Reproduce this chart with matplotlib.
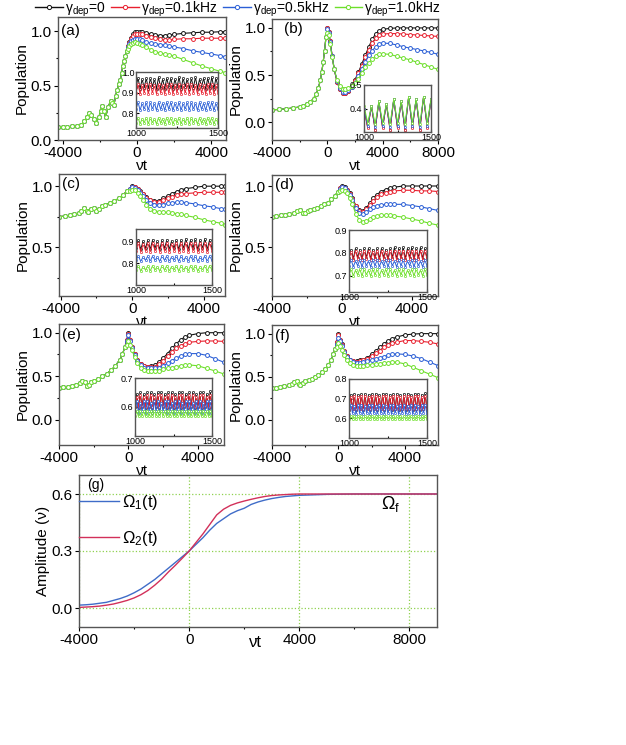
import matplotlib
matplotlib.use('Agg')
import matplotlib.pyplot as plt
import numpy as np

matplotlib.rcParams['font.family'] = ['Liberation Sans', 'DejaVu Sans']
matplotlib.rcParams['mathtext.fontset'] = 'custom'
matplotlib.rcParams['mathtext.rm'] = 'Liberation Sans'
matplotlib.rcParams['mathtext.default'] = 'regular'
matplotlib.rcParams['axes.unicode_minus'] = False

## 색상 / 범례
colors = ['#111111', '#e8202f', '#2b5fd6', '#6ddf2a']
labels = ['γ$_{dep}$=0', 'γ$_{dep}$=0.1kHz', 'γ$_{dep}$=0.5kHz', 'γ$_{dep}$=1.0kHz']

## (a)
a_t_pre = [-4250, -4000, -3750, -3500, -3250, -3000, -2850, -2700, -2580, -2450, -2300, -2190, -2050, -1950,
           -1870, -1780, -1690, -1550, -1420, -1330, -1240, -1150, -1070, -980, -890, -820, -760, -690, -620, -550]
a_pre = [0.12, 0.12, 0.12, 0.125, 0.13, 0.14, 0.17, 0.21, 0.245, 0.23, 0.19, 0.16, 0.21, 0.27,
         0.31, 0.27, 0.21, 0.30, 0.36, 0.34, 0.32, 0.40, 0.46, 0.51, 0.55, 0.62, 0.68, 0.73, 0.77, 0.82]
a_t_post = [-480, -400, -300, -200, -100, 0, 150, 300, 500, 750, 1000, 1250, 1500, 1750, 2000, 2500, 3000, 3500, 4000, 4500, 4750]
a_black = [0.86, 0.90, 0.94, 0.97, 0.99, 0.99, 0.99, 0.99, 0.985, 0.975, 0.965, 0.96, 0.96, 0.965, 0.97, 0.98, 0.985, 0.99, 0.99, 0.995, 0.995]
a_red = [0.86, 0.89, 0.93, 0.96, 0.97, 0.975, 0.975, 0.97, 0.96, 0.95, 0.935, 0.925, 0.92, 0.92, 0.925, 0.93, 0.93, 0.935, 0.935, 0.935, 0.935]
a_blue = [0.85, 0.88, 0.91, 0.92, 0.93, 0.93, 0.925, 0.915, 0.90, 0.89, 0.885, 0.877, 0.87, 0.862, 0.855, 0.84, 0.82, 0.805, 0.79, 0.775, 0.765]
a_green = [0.84, 0.86, 0.88, 0.89, 0.90, 0.895, 0.885, 0.87, 0.85, 0.83, 0.81, 0.80, 0.79, 0.78, 0.77, 0.74, 0.71, 0.68, 0.655, 0.63, 0.62]

## (b)
b_t_pre = [-4000, -3500, -3000, -2500, -2000, -1750, -1500, -1250, -1000, -800, -650, -500, -400, -300, -200, -100]
b_pre = [0.13, 0.135, 0.14, 0.15, 0.16, 0.17, 0.19, 0.21, 0.25, 0.30, 0.36, 0.45, 0.53, 0.64, 0.76, 0.90]
b_t_post = [0, 100, 200, 350, 500, 700, 900, 1100, 1300, 1500, 1750, 2000, 2250, 2500, 2750, 3000, 3250, 3500, 3750, 4000,
            4500, 5000, 5500, 6000, 6500, 7000, 7500, 8000]
b_black = [1.0, 0.96, 0.86, 0.70, 0.56, 0.43, 0.35, 0.31, 0.31, 0.33, 0.38, 0.45, 0.53, 0.62, 0.71, 0.80, 0.88, 0.94, 0.97, 0.985,
           0.995, 1.0, 1.0, 1.0, 1.0, 1.0, 1.0, 1.0]
b_red = [1.0, 0.96, 0.86, 0.70, 0.56, 0.43, 0.35, 0.31, 0.31, 0.33, 0.37, 0.44, 0.52, 0.60, 0.69, 0.77, 0.84, 0.89, 0.92, 0.935,
         0.94, 0.94, 0.935, 0.93, 0.925, 0.92, 0.915, 0.91]
b_blue = [0.99, 0.95, 0.85, 0.70, 0.56, 0.44, 0.36, 0.32, 0.32, 0.34, 0.37, 0.42, 0.49, 0.56, 0.64, 0.71, 0.76, 0.80, 0.83, 0.84,
          0.835, 0.82, 0.80, 0.785, 0.77, 0.755, 0.74, 0.72]
b_green = [0.95, 0.92, 0.83, 0.69, 0.56, 0.45, 0.38, 0.35, 0.35, 0.36, 0.38, 0.42, 0.46, 0.52, 0.58, 0.63, 0.67, 0.70, 0.72, 0.725,
           0.72, 0.70, 0.68, 0.66, 0.635, 0.61, 0.585, 0.56]

## (c)
c_t_pre = [-4100, -3750, -3500, -3250, -3000, -2850, -2700, -2550, -2450, -2300, -2150, -2000, -1850, -1700, -1500, -1250, -1000, -750, -500, -300]
c_pre = [0.75, 0.755, 0.76, 0.77, 0.78, 0.80, 0.82, 0.80, 0.785, 0.81, 0.82, 0.80, 0.81, 0.835, 0.85, 0.86, 0.88, 0.90, 0.93, 0.96]
c_t_post = [-150, 0, 150, 300, 450, 600, 800, 1000, 1250, 1500, 1750, 2000, 2250, 2500, 2750, 3000, 3500, 4000, 4500, 5000, 5200]
c_black = [0.98, 1.0, 0.995, 0.98, 0.96, 0.94, 0.91, 0.89, 0.875, 0.88, 0.90, 0.92, 0.94, 0.955, 0.97, 0.98, 0.99, 1.0, 1.0, 1.0, 1.0]
c_red = [0.98, 0.995, 0.99, 0.975, 0.955, 0.935, 0.905, 0.885, 0.87, 0.87, 0.885, 0.90, 0.915, 0.925, 0.935, 0.94, 0.945, 0.95, 0.95, 0.95, 0.95]
c_blue = [0.975, 0.99, 0.985, 0.97, 0.945, 0.92, 0.89, 0.865, 0.85, 0.845, 0.85, 0.86, 0.865, 0.87, 0.87, 0.865, 0.855, 0.84, 0.83, 0.815, 0.81]
c_green = [0.96, 0.97, 0.965, 0.945, 0.92, 0.89, 0.85, 0.815, 0.80, 0.79, 0.785, 0.785, 0.78, 0.775, 0.77, 0.76, 0.745, 0.725, 0.71, 0.695, 0.685]

## (d)
d_t_pre = [-4000, -3750, -3500, -3250, -3000, -2750, -2550, -2400, -2250, -2100, -1950, -1800, -1600, -1400, -1200, -1000, -800, -600, -400, -250]
d_pre = [0.75, 0.755, 0.76, 0.765, 0.77, 0.78, 0.795, 0.80, 0.78, 0.78, 0.795, 0.80, 0.81, 0.82, 0.835, 0.85, 0.865, 0.89, 0.92, 0.95]
d_t_post = [-100, 0, 150, 300, 450, 600, 800, 1000, 1200, 1400, 1600, 1800, 2000, 2250, 2500, 2750, 3000, 3500, 4000, 4500, 5000, 5500]
d_black = [0.98, 1.0, 0.99, 0.97, 0.94, 0.90, 0.84, 0.80, 0.795, 0.82, 0.86, 0.90, 0.93, 0.955, 0.97, 0.985, 0.99, 1.0, 1.0, 1.0, 1.0, 1.0]
d_red = [0.98, 0.995, 0.985, 0.965, 0.935, 0.895, 0.835, 0.795, 0.79, 0.81, 0.845, 0.88, 0.91, 0.935, 0.945, 0.955, 0.96, 0.965, 0.965, 0.96, 0.96, 0.955]
d_blue = [0.975, 0.99, 0.98, 0.96, 0.93, 0.885, 0.82, 0.78, 0.77, 0.785, 0.81, 0.83, 0.84, 0.845, 0.85, 0.85, 0.85, 0.85, 0.84, 0.83, 0.815, 0.80]
d_green = [0.96, 0.97, 0.96, 0.94, 0.90, 0.85, 0.77, 0.72, 0.705, 0.71, 0.73, 0.745, 0.755, 0.76, 0.76, 0.76, 0.755, 0.745, 0.73, 0.715, 0.695, 0.68]

## (e)
e_t_pre = [-4000, -3750, -3500, -3250, -3000, -2800, -2650, -2500, -2400, -2300, -2150, -2000, -1750, -1500, -1250, -1000, -750, -500, -350, -200]
e_pre = [0.37, 0.375, 0.38, 0.39, 0.40, 0.42, 0.44, 0.43, 0.39, 0.40, 0.43, 0.45, 0.47, 0.50, 0.53, 0.57, 0.62, 0.69, 0.75, 0.84]
e_t_post = [-100, 0, 100, 200, 350, 500, 700, 900, 1100, 1300, 1500, 1750, 2000, 2250, 2500, 2750, 3000, 3250, 3500, 4000, 4500, 5000, 5500]
e_black = [0.92, 1.0, 0.92, 0.84, 0.75, 0.69, 0.64, 0.615, 0.61, 0.615, 0.625, 0.66, 0.71, 0.76, 0.82, 0.87, 0.92, 0.95, 0.97, 0.99, 1.0, 1.0, 1.0]
e_red = [0.92, 0.99, 0.92, 0.84, 0.75, 0.69, 0.64, 0.615, 0.605, 0.605, 0.61, 0.64, 0.68, 0.73, 0.78, 0.82, 0.85, 0.875, 0.89, 0.90, 0.905, 0.905, 0.90]
e_blue = [0.90, 0.97, 0.90, 0.82, 0.74, 0.68, 0.63, 0.60, 0.59, 0.59, 0.59, 0.60, 0.62, 0.65, 0.68, 0.71, 0.73, 0.75, 0.76, 0.76, 0.74, 0.70, 0.66]
e_green = [0.86, 0.91, 0.86, 0.80, 0.72, 0.65, 0.60, 0.575, 0.565, 0.56, 0.56, 0.565, 0.58, 0.59, 0.60, 0.61, 0.62, 0.625, 0.63, 0.62, 0.59, 0.56, 0.525]

## (f)
f_t_pre = [-4000, -3750, -3500, -3250, -3000, -2800, -2650, -2500, -2400, -2300, -2150, -2000, -1800, -1600, -1400, -1200, -1000, -800, -600, -450, -300, -200]
f_pre = [0.37, 0.375, 0.38, 0.39, 0.40, 0.42, 0.44, 0.45, 0.42, 0.40, 0.43, 0.45, 0.46, 0.48, 0.50, 0.52, 0.55, 0.59, 0.64, 0.69, 0.76, 0.82]
f_t_post = [-100, 0, 100, 200, 350, 500, 700, 900, 1100, 1300, 1500, 1750, 2000, 2250, 2500, 2750, 3000, 3250, 3500, 4000, 4500, 5000, 5500, 6000]
f_black = [0.90, 0.99, 0.93, 0.88, 0.80, 0.74, 0.70, 0.68, 0.68, 0.69, 0.70, 0.72, 0.76, 0.80, 0.84, 0.88, 0.92, 0.94, 0.96, 0.985, 0.995, 1.0, 1.0, 1.0]
f_red = [0.90, 0.98, 0.93, 0.87, 0.80, 0.74, 0.70, 0.68, 0.675, 0.68, 0.69, 0.71, 0.74, 0.77, 0.80, 0.84, 0.87, 0.89, 0.90, 0.92, 0.92, 0.91, 0.90, 0.88]
f_blue = [0.88, 0.95, 0.91, 0.86, 0.79, 0.73, 0.69, 0.67, 0.665, 0.665, 0.67, 0.68, 0.69, 0.71, 0.72, 0.735, 0.75, 0.76, 0.765, 0.76, 0.74, 0.71, 0.67, 0.63]
f_green = [0.84, 0.89, 0.86, 0.81, 0.75, 0.69, 0.655, 0.635, 0.63, 0.63, 0.63, 0.635, 0.64, 0.645, 0.65, 0.66, 0.665, 0.67, 0.67, 0.65, 0.61, 0.57, 0.53, 0.49]

## 삽입 그래프 (1000 ~ 1500)
a_in_black = [0.93, 0.97, 0.92, 0.965, 0.925, 0.97, 0.92, 0.97, 0.93, 0.965, 0.92, 0.975, 0.925, 0.965, 0.92, 0.97, 0.93, 0.97, 0.92, 0.965, 0.925,
              0.975, 0.92, 0.97, 0.93, 0.965, 0.92, 0.97, 0.925, 0.975, 0.92, 0.965, 0.93, 0.97, 0.92, 0.97, 0.925, 0.975, 0.92, 0.97, 0.93]
a_in_red = [0.90, 0.94, 0.895, 0.935, 0.90, 0.94, 0.895, 0.94, 0.90, 0.935, 0.895, 0.94, 0.90, 0.935, 0.895, 0.94, 0.90, 0.94, 0.895, 0.935, 0.90,
            0.94, 0.895, 0.935, 0.90, 0.94, 0.895, 0.94, 0.90, 0.935, 0.895, 0.94, 0.90, 0.935, 0.895, 0.94, 0.90, 0.94, 0.895, 0.935, 0.90]
a_in_blue = [0.82, 0.855, 0.815, 0.85, 0.82, 0.855, 0.815, 0.855, 0.82, 0.85, 0.815, 0.855, 0.82, 0.85, 0.815, 0.855, 0.82, 0.855, 0.815, 0.85, 0.82,
             0.855, 0.815, 0.85, 0.82, 0.855, 0.815, 0.855, 0.82, 0.85, 0.815, 0.855, 0.82, 0.85, 0.815, 0.855, 0.82, 0.855, 0.815, 0.85, 0.82]
a_in_green = [0.755, 0.78, 0.75, 0.775, 0.755, 0.78, 0.75, 0.78, 0.755, 0.775, 0.75, 0.78, 0.755, 0.775, 0.75, 0.78, 0.755, 0.78, 0.75, 0.775, 0.755,
              0.78, 0.75, 0.775, 0.755, 0.78, 0.75, 0.78, 0.755, 0.775, 0.75, 0.78, 0.755, 0.775, 0.75, 0.78, 0.755, 0.78, 0.75, 0.775, 0.755]

b_in_black = [0.40, 0.32, 0.41, 0.31, 0.43, 0.32, 0.42, 0.31, 0.44, 0.32, 0.43, 0.31, 0.45, 0.32, 0.44, 0.31, 0.45, 0.32, 0.44]
b_in_red = [0.40, 0.315, 0.41, 0.31, 0.43, 0.315, 0.42, 0.31, 0.44, 0.315, 0.43, 0.31, 0.45, 0.315, 0.44, 0.31, 0.45, 0.315, 0.44]
b_in_blue = [0.40, 0.325, 0.41, 0.32, 0.43, 0.325, 0.42, 0.32, 0.44, 0.325, 0.43, 0.32, 0.45, 0.325, 0.44, 0.32, 0.45, 0.325, 0.44]
b_in_green = [0.41, 0.34, 0.41, 0.335, 0.43, 0.34, 0.42, 0.335, 0.44, 0.34, 0.43, 0.335, 0.45, 0.34, 0.44, 0.335, 0.45, 0.34, 0.44]

c_in_black = [0.87, 0.91, 0.865, 0.905, 0.87, 0.91, 0.865, 0.91, 0.87, 0.905, 0.865, 0.91, 0.87, 0.91, 0.865, 0.905, 0.87,
              0.91, 0.865, 0.91, 0.87, 0.915, 0.865, 0.91, 0.87, 0.915, 0.865, 0.91, 0.87, 0.915, 0.865, 0.91, 0.87]
c_in_red = [0.86, 0.895, 0.855, 0.89, 0.86, 0.895, 0.855, 0.895, 0.86, 0.89, 0.855, 0.895, 0.86, 0.895, 0.855, 0.89, 0.86,
            0.895, 0.855, 0.895, 0.86, 0.895, 0.855, 0.895, 0.86, 0.895, 0.855, 0.895, 0.86, 0.895, 0.855, 0.895, 0.86]
c_in_blue = [0.815, 0.835, 0.81, 0.83, 0.815, 0.835, 0.81, 0.835, 0.815, 0.83, 0.81, 0.835, 0.815, 0.835, 0.81, 0.83, 0.815,
             0.835, 0.81, 0.835, 0.815, 0.83, 0.81, 0.835, 0.815, 0.835, 0.81, 0.83, 0.815, 0.835, 0.81, 0.835, 0.815]
c_in_green = [0.77, 0.79, 0.765, 0.785, 0.77, 0.79, 0.765, 0.79, 0.77, 0.785, 0.765, 0.79, 0.77, 0.79, 0.765, 0.785, 0.77,
              0.79, 0.765, 0.79, 0.77, 0.785, 0.765, 0.79, 0.77, 0.79, 0.765, 0.785, 0.77, 0.79, 0.765, 0.79, 0.77]

d_in_black = [0.78, 0.815, 0.775, 0.82, 0.78, 0.815, 0.775, 0.82, 0.78, 0.82, 0.775, 0.815, 0.78, 0.82, 0.775, 0.82, 0.78, 0.815, 0.775,
              0.82, 0.78, 0.825, 0.775, 0.82, 0.78, 0.825, 0.775, 0.82, 0.78, 0.825, 0.775, 0.82, 0.78, 0.825, 0.775, 0.82, 0.78]
d_in_red = [0.775, 0.805, 0.77, 0.81, 0.775, 0.805, 0.77, 0.81, 0.775, 0.81, 0.77, 0.805, 0.775, 0.81, 0.77, 0.81, 0.775, 0.805, 0.77,
            0.81, 0.775, 0.81, 0.77, 0.81, 0.775, 0.81, 0.77, 0.81, 0.775, 0.81, 0.77, 0.81, 0.775, 0.81, 0.77, 0.81, 0.775]
d_in_blue = [0.745, 0.77, 0.74, 0.765, 0.745, 0.77, 0.74, 0.77, 0.745, 0.765, 0.74, 0.77, 0.745, 0.77, 0.74, 0.765, 0.745, 0.77, 0.74,
             0.77, 0.745, 0.765, 0.74, 0.77, 0.745, 0.77, 0.74, 0.765, 0.745, 0.77, 0.74, 0.77, 0.745, 0.765, 0.74, 0.77, 0.745]
d_in_green = [0.705, 0.73, 0.70, 0.725, 0.705, 0.73, 0.70, 0.73, 0.705, 0.725, 0.70, 0.73, 0.705, 0.73, 0.70, 0.725, 0.705, 0.73, 0.70,
              0.73, 0.705, 0.725, 0.70, 0.73, 0.705, 0.73, 0.70, 0.725, 0.705, 0.73, 0.70, 0.73, 0.705, 0.725, 0.70, 0.73, 0.705]

e_in_black = [0.60, 0.645, 0.595, 0.65, 0.60, 0.645, 0.595, 0.65, 0.60, 0.65, 0.595, 0.645, 0.60, 0.65, 0.595, 0.65, 0.60, 0.645, 0.595, 0.65, 0.60, 0.65, 0.595,
              0.645, 0.60, 0.65, 0.595, 0.65, 0.60, 0.645, 0.595, 0.65, 0.60, 0.65, 0.595, 0.645, 0.60, 0.65, 0.595, 0.65, 0.60, 0.645, 0.595, 0.655, 0.60]
e_in_red = [0.605, 0.635, 0.60, 0.64, 0.605, 0.635, 0.60, 0.64, 0.605, 0.64, 0.60, 0.635, 0.605, 0.64, 0.60, 0.64, 0.605, 0.635, 0.60, 0.64, 0.605, 0.64, 0.60,
            0.635, 0.605, 0.64, 0.60, 0.64, 0.605, 0.635, 0.60, 0.64, 0.605, 0.64, 0.60, 0.635, 0.605, 0.64, 0.60, 0.64, 0.605, 0.635, 0.60, 0.64, 0.605]
e_in_blue = [0.585, 0.62, 0.58, 0.615, 0.585, 0.62, 0.58, 0.62, 0.585, 0.615, 0.58, 0.62, 0.585, 0.62, 0.58, 0.615, 0.585, 0.62, 0.58, 0.62, 0.585, 0.615, 0.58,
             0.62, 0.585, 0.62, 0.58, 0.615, 0.585, 0.62, 0.58, 0.62, 0.585, 0.615, 0.58, 0.62, 0.585, 0.62, 0.58, 0.615, 0.585, 0.62, 0.58, 0.62, 0.585]
e_in_green = [0.57, 0.585, 0.568, 0.587, 0.57, 0.585, 0.568, 0.587, 0.57, 0.585, 0.568, 0.587, 0.57, 0.585, 0.568, 0.587, 0.57, 0.585, 0.568, 0.587, 0.57, 0.585, 0.568,
              0.587, 0.57, 0.585, 0.568, 0.587, 0.57, 0.585, 0.568, 0.587, 0.57, 0.585, 0.568, 0.587, 0.57, 0.585, 0.568, 0.587, 0.57, 0.585, 0.568, 0.587, 0.57]

f_in_black = [0.64, 0.72, 0.645, 0.725, 0.64, 0.72, 0.645, 0.725, 0.64, 0.725, 0.645, 0.72, 0.64, 0.725, 0.645, 0.725, 0.64, 0.72, 0.645, 0.725, 0.64, 0.725, 0.645,
              0.72, 0.64, 0.725, 0.645, 0.725, 0.64, 0.72, 0.645, 0.725, 0.64, 0.725, 0.645, 0.72, 0.64, 0.725, 0.645, 0.725, 0.64, 0.72, 0.645, 0.73, 0.64]
f_in_red = [0.65, 0.71, 0.645, 0.715, 0.65, 0.71, 0.645, 0.715, 0.65, 0.715, 0.645, 0.71, 0.65, 0.715, 0.645, 0.715, 0.65, 0.71, 0.645, 0.715, 0.65, 0.715, 0.645,
            0.71, 0.65, 0.715, 0.645, 0.715, 0.65, 0.71, 0.645, 0.715, 0.65, 0.715, 0.645, 0.71, 0.65, 0.715, 0.645, 0.715, 0.65, 0.71, 0.645, 0.715, 0.65]
f_in_blue = [0.62, 0.67, 0.625, 0.665, 0.62, 0.67, 0.625, 0.67, 0.62, 0.665, 0.625, 0.67, 0.62, 0.67, 0.625, 0.665, 0.62, 0.67, 0.625, 0.67, 0.62, 0.665, 0.625,
             0.67, 0.62, 0.67, 0.625, 0.665, 0.62, 0.67, 0.625, 0.67, 0.62, 0.665, 0.625, 0.67, 0.62, 0.67, 0.625, 0.665, 0.62, 0.67, 0.625, 0.67, 0.62]
f_in_green = [0.595, 0.61, 0.597, 0.612, 0.595, 0.61, 0.597, 0.612, 0.595, 0.61, 0.597, 0.612, 0.595, 0.61, 0.597, 0.612, 0.595, 0.61, 0.597, 0.612, 0.595, 0.61, 0.597,
              0.612, 0.595, 0.61, 0.597, 0.612, 0.595, 0.61, 0.597, 0.612, 0.595, 0.61, 0.597, 0.612, 0.595, 0.61, 0.597, 0.612, 0.595, 0.61, 0.597, 0.612, 0.595]

## (g) 진폭
g_t = [-4000, -3750, -3500, -3250, -3000, -2750, -2500, -2250, -2000, -1750, -1500, -1250, -1000, -750, -500, -250, 0,
       250, 500, 750, 1000, 1250, 1500, 1750, 2000, 2250, 2500, 2750, 3000, 3250, 3500, 3750, 4000, 5000, 6000, 7000, 8000, 9000]
g_omega1 = [0.015, 0.017, 0.02, 0.025, 0.03, 0.04, 0.05, 0.063, 0.08, 0.10, 0.125, 0.15, 0.18, 0.21, 0.24, 0.27, 0.30,
            0.335, 0.37, 0.41, 0.445, 0.47, 0.495, 0.512, 0.525, 0.545, 0.558, 0.568, 0.576, 0.582, 0.587, 0.59, 0.593, 0.598, 0.6, 0.6, 0.6, 0.6]
g_omega2 = [0.003, 0.005, 0.007, 0.01, 0.015, 0.021, 0.03, 0.04, 0.053, 0.07, 0.092, 0.12, 0.152, 0.19, 0.225, 0.262, 0.30,
            0.345, 0.39, 0.44, 0.49, 0.52, 0.54, 0.553, 0.563, 0.572, 0.58, 0.587, 0.592, 0.595, 0.597, 0.599, 0.6, 0.6, 0.6, 0.6, 0.6, 0.6]

W, H = 626, 745
fig = plt.figure(figsize=(W / 100, H / 100), dpi=100)


def rect(x0, y0, x1, y1):
    # 픽셀 좌표 -> figure 좌표
    return [x0 / W, 1 - y1 / H, (x1 - x0) / W, (y1 - y0) / H]


def style(ax, size=10, direction='out', length=3):
    for s in ax.spines.values():
        s.set_color('#555555')
        s.set_linewidth(1.0)
    ax.tick_params(which='both', direction=direction, labelsize=size, width=0.8, pad=1.5)
    ax.tick_params(which='major', length=length)
    ax.tick_params(which='minor', length=length * 0.6)


def panel(box, t_pre, pre, t_post, posts, xlim, ylim, xticks, xminor, yticks, yminor, tag, tagpos,
          inbox, ins, inylim, inyticks):
    ax = fig.add_axes(rect(*box))
    t = t_pre + t_post
    for c, post in zip(colors, posts):
        ax.plot(t, pre + post, '-o', color=c, lw=0.8, ms=2.8, mew=0.7, mfc='white')
    ax.set_xlim(*xlim)
    ax.set_ylim(*ylim)
    ax.set_xticks(xticks)
    ax.set_xticks(xminor, minor=True)
    ax.set_yticks(yticks)
    ax.set_yticks(yminor, minor=True)
    ax.set_yticklabels(['%.1f' % v for v in yticks])
    ax.set_xlabel('νt', fontsize=11, labelpad=-1)
    ax.set_ylabel('Population', fontsize=11, labelpad=1)
    ax.text(tagpos[0], tagpos[1], tag, transform=ax.transAxes, fontsize=11, va='center')
    style(ax, size=11)

    ai = fig.add_axes(rect(*inbox))
    for c, v in zip(colors, ins):
        ti = np.linspace(1000, 1500, len(v))
        ai.plot(ti, v, '-o', color=c, lw=0.7, ms=1.6, mew=0.5, mfc='white')
    ai.set_xlim(1000, 1500)
    ai.set_ylim(*inylim)
    ai.set_xticks([1000, 1500])
    ai.set_xticks([1250], minor=True)
    ai.set_yticks(inyticks)
    ai.set_yticklabels(['%.1f' % v for v in inyticks])
    style(ai, size=6.5, direction='in', length=2.5)
    ai.tick_params(pad=1)
    return ax


panel((58, 17, 226, 140), a_t_pre, a_pre, a_t_post, [a_black, a_red, a_blue, a_green],
      (-4250, 4800), (0, 1.13), [-4000, 0, 4000], [-2000, 2000], [0.0, 0.5, 1.0], [0.25, 0.75],
      '(a)', (0.02, 0.885), (136, 72, 218, 128), [a_in_black, a_in_red, a_in_blue, a_in_green],
      (0.73, 1.0), [0.8, 0.9, 1.0])

panel((272, 19, 438, 140), b_t_pre, b_pre, b_t_post, [b_black, b_red, b_blue, b_green],
      (-4000, 8000), (-0.19, 1.095), [-4000, 0, 4000, 8000], [-2000, 2000, 6000], [0.0, 0.5, 1.0], [0.25, 0.75],
      '(b)', (0.07, 0.92), (364, 85, 431, 132), [b_in_black, b_in_red, b_in_blue, b_in_green],
      (0.3, 0.5), [0.4, 0.5])

panel((59, 174, 225, 296), c_t_pre, c_pre, c_t_post, [c_black, c_red, c_blue, c_green],
      (-4100, 5200), (0.1, 1.1), [-4000, 0, 4000], [-2000, 2000], [0.5, 1.0], [0.25, 0.75],
      '(c)', (0.02, 0.92), (136, 229, 212, 285), [c_in_black, c_in_red, c_in_blue, c_in_green],
      (0.70, 0.96), [0.8, 0.9])

panel((272, 175, 438, 296), d_t_pre, d_pre, d_t_post, [d_black, d_red, d_blue, d_green],
      (-4000, 5500), (0.1, 1.09), [-4000, 0, 4000], [-2000, 2000], [0.5, 1.0], [0.25, 0.75],
      '(d)', (0.02, 0.92), (349, 230, 427, 292), [d_in_black, d_in_red, d_in_blue, d_in_green],
      (0.63, 0.9), [0.7, 0.8, 0.9])

panel((59, 324, 224, 445), e_t_pre, e_pre, e_t_post, [e_black, e_red, e_blue, e_green],
      (-4000, 5500), (-0.29, 1.10), [-4000, 0, 4000], [-2000, 2000], [0.0, 0.5, 1.0], [0.25, 0.75],
      '(e)', (0.02, 0.91), (135, 378, 212, 436), [e_in_black, e_in_red, e_in_blue, e_in_green],
      (0.5, 0.7), [0.6, 0.7])

panel((272, 325, 438, 445), f_t_pre, f_pre, f_t_post, [f_black, f_red, f_blue, f_green],
      (-4000, 6000), (-0.29, 1.10), [-4000, 0, 4000], [-2000, 2000], [0.0, 0.5, 1.0], [0.25, 0.75],
      '(f)', (0.02, 0.91), (349, 379, 427, 438), [f_in_black, f_in_red, f_in_blue, f_in_green],
      (0.5, 0.8), [0.6, 0.7, 0.8])

## 위쪽 범례
handles = [plt.Line2D([], [], color=c, lw=1.0, marker='o', ms=3.0, mew=0.7, mfc='white') for c in colors]
fig.legend(handles, labels, loc='center left', bbox_to_anchor=(35 / W, 1 - 9 / H), ncol=4, frameon=False,
           fontsize=10, handlelength=2.0, handletextpad=0.15, columnspacing=0.4, borderpad=0, borderaxespad=0)

## (g)
ag = fig.add_axes(rect(79, 475, 437, 627))
l1, = ag.plot(g_t, g_omega1, color='#3f6cc8', lw=1.0)
l2, = ag.plot(g_t, g_omega2, color='#d2305a', lw=1.0)
ag.set_xlim(-4000, 9000)
ag.set_ylim(-0.1, 0.7)
ag.set_xticks([-4000, 0, 4000, 8000])
ag.set_xticks([-2000, 2000, 6000], minor=True)
ag.set_yticks([0.0, 0.3, 0.6])
ag.set_yticklabels(['0.0', '0.3', '0.6'])
ag.grid(True, which='major', color='#8fd14f', ls=':', lw=0.9)
ag.set_xlabel('νt', fontsize=12)
ag.xaxis.set_label_coords((255 - 79) / 358, -0.10)
ag.xaxis.label.set_va('center')
ag.set_ylabel('Amplitude (ν)', fontsize=11, labelpad=1)
ag.text(-3700, 0.625, '(g)', fontsize=10)
ag.text(6950, 0.52, 'Ω$_f$', fontsize=13)
ag.legend([l1, l2], ['Ω$_1$(t)', 'Ω$_2$(t)'], loc='upper left', bbox_to_anchor=(0.0, 0.88), frameon=False,
          fontsize=12, handlelength=2.4, handletextpad=0.2, labelspacing=1.0, borderpad=0, borderaxespad=0)
style(ag, size=11)

fig.savefig('out.png', dpi=100)
